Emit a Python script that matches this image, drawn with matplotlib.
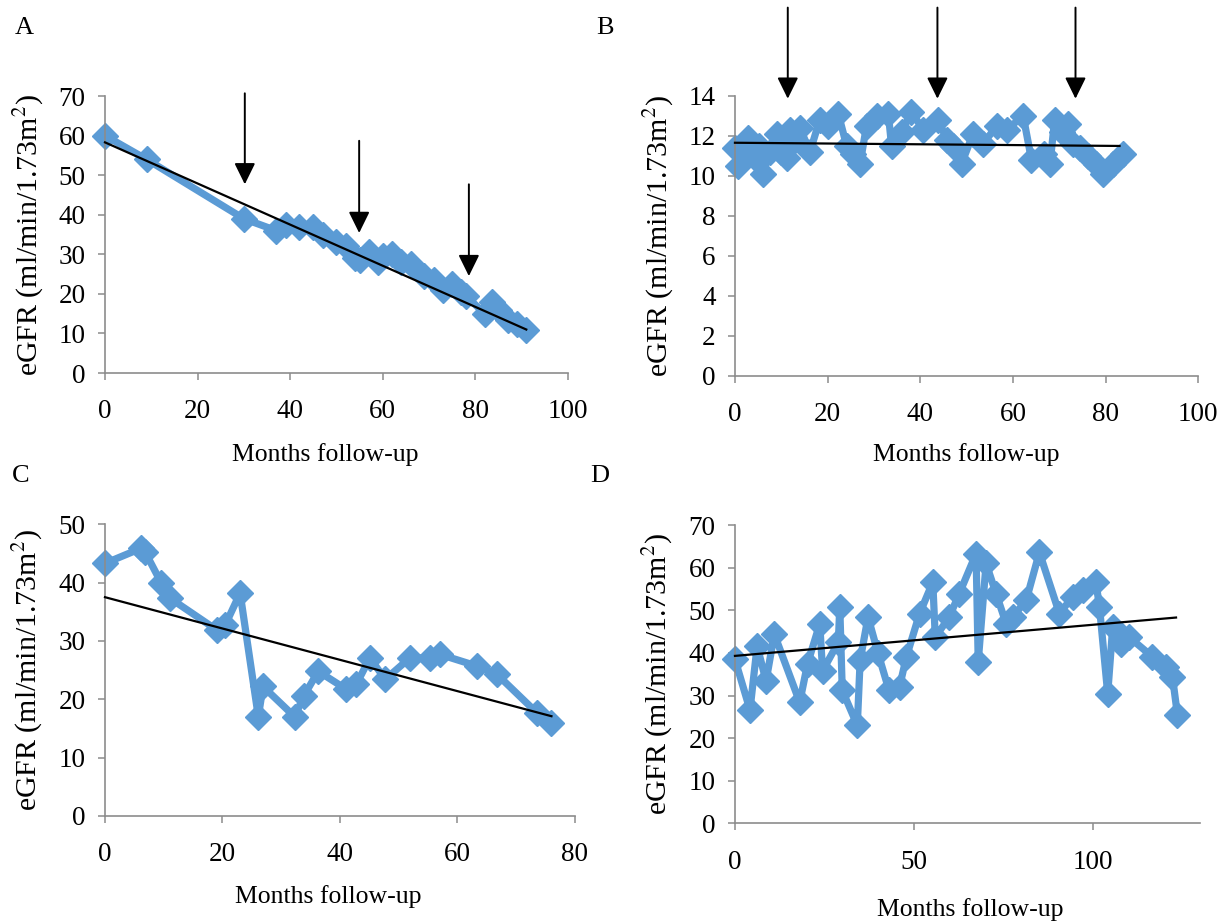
import matplotlib
matplotlib.use("Agg")
import matplotlib.pyplot as plt

plt.rcParams['font.family'] = ['Liberation Serif', 'DejaVu Serif']
plt.rcParams['mathtext.fontset'] = 'stix'

# panel A
a_months = [0, 9, 30, 37, 39, 42, 45, 47, 50, 52, 54, 55, 57, 59, 60, 62, 64, 66,
            69, 71, 73, 75, 77, 78, 82, 83.5, 85, 87, 89, 91]
a_egfr = [60, 54, 39, 36, 37.5, 37, 37, 35, 33, 32, 29, 28.5, 30.5, 28, 29.5, 30, 28, 27.5,
          24.5, 23.5, 21, 22.5, 20.5, 19.5, 15, 18, 16, 13.5, 12.5, 11]
a_trend_x = [0, 91]
a_trend_y = [58.3, 11.0]
a_arrow_x = [30.2, 54.9, 78.6]
a_arrow_top = [70.7, 58.7, 47.7]
a_arrow_tip = [47.7, 35.4, 24.5]

# panel B
b_months = [0, 0.7, 2.2, 2.9, 4.3, 5.2, 6.1, 7.5, 9.0, 10, 11.2, 11.9, 13, 14, 16.2, 18.3,
            20, 22.3, 24.1, 25.5, 27, 28.4, 30.6, 33.1, 33.8, 36, 38.1, 40.6, 43.9, 45.7,
            47, 48.9, 51.4, 53.6, 56.5, 58.7, 62.2, 64, 66.6, 68, 69, 70.5, 71.9, 73, 74.5,
            76.3, 78, 79.5, 81.6, 83.8]
b_egfr = [11.4, 10.5, 11.6, 11.9, 10.9, 11.5, 10.1, 11.2, 12.1, 11.2, 10.9, 12.3, 11.8, 12.4,
          11.2, 12.8, 12.5, 13.1, 11.5, 11.1, 10.6, 12.5, 13.0, 13.1, 11.5, 12.2, 13.2, 12.3,
          12.8, 11.8, 11.5, 10.6, 12.1, 11.6, 12.5, 12.3, 13.0, 10.8, 11.1, 10.6, 12.8, 12.2,
          12.6, 11.6, 11.4, 11.0, 10.6, 10.1, 10.6, 11.1]
b_trend_x = [0, 83]
b_trend_y = [11.65, 11.49]
b_arrow_x = [11.4, 43.7, 73.5]
b_arrow_top = [18.4, 18.4, 18.4]
b_arrow_tip = [13.85, 13.85, 13.85]

# panel C
c_months = [0, 6.2, 6.8, 9.6, 11.1, 19.0, 20.5, 23, 26.1, 26.9, 32.3, 33.8, 36.3, 41.1,
            42.8, 45.1, 47.7, 51.9, 55.3, 57.0, 63.3, 66.7, 73.5, 76.0]
c_egfr = [43.3, 45.9, 45.3, 39.9, 37.3, 31.9, 32.8, 38.2, 17.0, 22.2, 17.0, 20.5, 24.8, 21.7,
          22.6, 27.1, 23.4, 27.1, 27.1, 27.7, 25.7, 24.3, 17.7, 16.0]
c_trend_x = [0, 76]
c_trend_y = [37.5, 17.1]

# panel D
d_months = [0, 4.2, 6.2, 8.7, 11, 18.1, 20.3, 23.7, 24.5, 28.9, 29.3, 30, 34.2, 35, 37.2,
            40, 43, 46, 47.9, 51.6, 55.3, 56, 59.9, 62.7, 67.4, 68, 70.2, 73, 75.8,
            77.6, 81.4, 85.1, 90.7, 94.4, 97.2, 100.9, 101.9, 104.2, 105.6, 107.9,
            110.2, 116.7, 120.5, 122.3, 123.7]
d_egfr = [38.5, 26.6, 41.6, 33.4, 44.4, 28.4, 37.5, 46.8, 35.8, 42.5, 50.8, 31.2, 23.0, 38.3, 48.4,
          39.9, 31.4, 32, 39, 49.2, 56.6, 43.7, 48.4, 53.9, 63.3, 37.9, 61, 53.9, 46.9,
          48.4, 52.3, 63.6, 49.2, 53.2, 54.7, 56.6, 50.8, 30.4, 46.1, 42.2,
          43.7, 39.1, 36.7, 34.4, 25.4]
d_trend_x = [0, 123.3]
d_trend_y = [39.3, 48.3]

BLUE = '#5b9bd5'
GREY = '#8c8c8c'
YLAB = r'eGFR (ml/min/1.73m$^{2}$)'
XLAB = 'Months follow-up'


def draw_panel(ax, x, y, tx, ty, xlim, xticks, ylim, ystep, xlab_y):
    ax.plot(x, y, color=BLUE, lw=5.2, marker='D', ms=13.5, solid_joinstyle='round', zorder=2)
    ax.plot(tx, ty, color='black', lw=1.6, zorder=3)
    ax.set_xlim(*xlim)
    ax.set_ylim(*ylim)
    ax.set_xticks(xticks)
    ax.set_yticks([v * ystep for v in range(int(ylim[1] / ystep) + 1)])
    for s in ['top', 'right']:
        ax.spines[s].set_visible(False)
    for s in ['left', 'bottom']:
        ax.spines[s].set_color(GREY)
        ax.spines[s].set_linewidth(1.2)
    ax.tick_params(direction='out', length=5, width=1.1, color=GREY, labelsize=19.5)
    ax.tick_params(axis='y', pad=9)
    ax.tick_params(axis='x', pad=14)
    ax.set_ylabel(YLAB, fontsize=21.5)
    ax.set_xlabel(XLAB, fontsize=18.5)
    ax.yaxis.set_label_coords(-0.128, 0.5)
    ax.xaxis.set_label_coords(0.475, xlab_y)
    for c in ax.lines:
        c.set_clip_on(False)


def draw_arrows(ax, xs, tops, tips):
    for x, t0, t1 in zip(xs, tops, tips):
        ax.annotate('', xy=(x, t1), xytext=(x, t0), annotation_clip=False,
                    arrowprops=dict(arrowstyle='-|>,head_length=0.65,head_width=0.32',
                                    color='black', lw=1.4, shrinkA=0, shrinkB=0,
                                    mutation_scale=20))


fig = plt.figure(figsize=(12.28, 9.22), dpi=100)
ax_a = fig.add_axes([0.0855, 0.5954, 0.377, 0.3004])
ax_b = fig.add_axes([0.5985, 0.5922, 0.3773, 0.304])
ax_c = fig.add_axes([0.0855, 0.115, 0.3827, 0.3164])
ax_d = fig.add_axes([0.5985, 0.107, 0.3787, 0.3235])

draw_panel(ax_a, a_months, a_egfr, a_trend_x, a_trend_y, (0, 100), range(0, 101, 20),
           (0, 70), 10, -0.253)
draw_arrows(ax_a, a_arrow_x, a_arrow_top, a_arrow_tip)
draw_panel(ax_b, b_months, b_egfr, b_trend_x, b_trend_y, (0, 100), range(0, 101, 20),
           (0, 14), 2, -0.239)
draw_arrows(ax_b, b_arrow_x, b_arrow_top, b_arrow_tip)
draw_panel(ax_c, c_months, c_egfr, c_trend_x, c_trend_y, (0, 80), range(0, 81, 20),
           (0, 50), 10, -0.235)
draw_panel(ax_d, d_months, d_egfr, d_trend_x, d_trend_y, (0, 130), [0, 50, 100],
           (0, 70), 10, -0.25)
ax_b.xaxis.set_label_coords(0.5, -0.239)
ax_d.xaxis.set_label_coords(0.505, -0.25)

for lab, px, py in [('A', 15, 28), ('B', 596, 28), ('C', 12, 476), ('D', 590, 476)]:
    fig.text(px / 1228, 1 - py / 922, lab, fontsize=19, va='center')

fig.savefig('out.png', dpi=100)
